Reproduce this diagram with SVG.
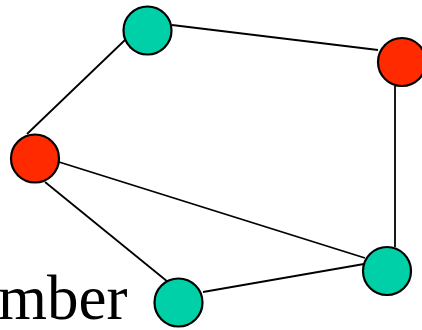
<svg xmlns="http://www.w3.org/2000/svg" width="422" height="330" viewBox="0 0 422 330">
<style>
.e{stroke:#000;stroke-width:1.8;fill:none}
.n{stroke:#000;stroke-width:2.2}
.g{fill:#00D0A8}
.r{fill:#FF2A00}
.t{font-family:"Liberation Serif","Times New Roman",serif;font-size:63px;fill:#000}
</style>
<rect width="422" height="330" fill="#fff"/>
<g id="connectors">
<line class="e" x1="172" y1="25" x2="378" y2="50"/>
<line class="e" x1="27" y1="134" x2="125" y2="40"/>
<line class="e" x1="395" y1="86" x2="395" y2="247"/>
<line class="e" x1="59" y1="162" x2="365" y2="258"/>
<line class="e" x1="45" y1="182" x2="168" y2="282"/>
<line class="e" x1="203" y1="292" x2="364" y2="264"/>
</g>
<g id="n1"><circle class="n g" cx="147.5" cy="30.5" r="24"/></g>
<g id="n2"><circle class="n r" cx="402" cy="62" r="24"/></g>
<g id="n3"><circle class="n r" cx="35" cy="158.5" r="24"/></g>
<g id="n4"><circle class="n g" cx="387" cy="271" r="24"/></g>
<g id="n5"><circle class="n g" cx="178.5" cy="302.5" r="24"/></g>
<text class="t" x="-2" y="319">mber</text>
</svg>
